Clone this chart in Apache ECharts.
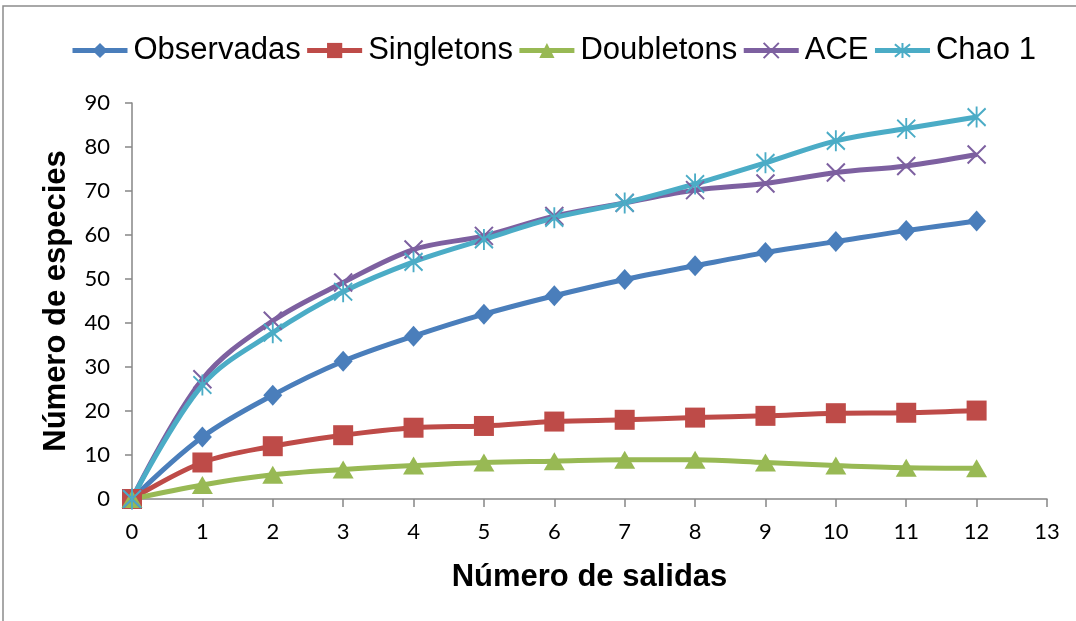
<!DOCTYPE html>
<html>
<head>
<meta charset="utf-8">
<script src="https://cdn.jsdelivr.net/npm/echarts@6/dist/echarts.min.js"></script>
<style>
  html, body { margin: 0; padding: 0; background: #fff; }
  #chart { width: 1076px; height: 621px; }
</style>
</head>
<body>
<div id="chart"></div>
<script>
// Sampling effort (number of outings) and species counts per estimator
const salidas = [0, 1, 2, 3, 4, 5, 6, 7, 8, 9, 10, 11, 12];
const observadas = [0, 14.1, 23.6, 31.3, 37.0, 42.0, 46.2, 49.9, 53.0, 56.0, 58.5, 61.0, 63.2];
const singletons = [0, 8.3, 12.0, 14.5, 16.2, 16.6, 17.6, 18.0, 18.5, 18.9, 19.5, 19.6, 20.1];
const doubletons = [0, 3.2, 5.5, 6.7, 7.6, 8.3, 8.6, 8.9, 8.9, 8.3, 7.6, 7.1, 7.0];
const ace = [0, 27.2, 40.5, 49.2, 56.7, 59.8, 64.3, 67.3, 70.2, 71.7, 74.2, 75.7, 78.3];
const chao1 = [0, 25.9, 37.8, 47.1, 53.9, 59.0, 63.9, 67.3, 71.6, 76.4, 81.4, 84.2, 86.8];

const seriesNames = ['Observadas', 'Singletons', 'Doubletons', 'ACE', 'Chao 1'];
const yTicks = { min: 0, max: 90, interval: 10 };
const xTicks = { min: 0, max: 13, interval: 1 };

const pairs = vals => salidas.map((s, i) => [s, vals[i]]);

const CROSS = 'path://M0,0L10,10M10,0L0,10';
const STAR = 'path://M0,1L10,11M10,1L0,11M5,0L5,12';

function lineSeries(name, vals, color, symbol, size, stroke) {
  return {
    name: name,
    type: 'line',
    data: pairs(vals),
    smooth: 0.35,
    symbol: symbol,
    symbolSize: size,
    lineStyle: { color: color, width: 5 },
    itemStyle: stroke
      ? { color: color, borderColor: color, borderWidth: 2 }
      : { color: color, borderWidth: 0 },
    emphasis: { disabled: true },
    z: 2
  };
}

const chart = echarts.init(document.getElementById('chart'), null, { renderer: 'canvas' });

const axisGray = '#868686';
const tickFont = { fontFamily: 'Lato, "Open Sans", sans-serif', fontSize: 22, color: '#000' };
const titleFont = { fontFamily: '"Liberation Sans", Arial, sans-serif', fontWeight: 'bold', fontSize: 31, color: '#000' };

chart.setOption({
  animation: false,
  backgroundColor: '#fff',
  graphic: [{
    type: 'rect',
    shape: { x: 3, y: 6, width: 1200, height: 800 },
    style: { fill: 'none', stroke: '#8c8c8c', lineWidth: 1.5 },
    silent: true
  }],
  legend: {
    data: seriesNames,
    top: 30,
    left: 65,
    itemWidth: 55,
    itemHeight: 19,
    itemGap: 4,
    lineStyle: { width: 5 },
    textStyle: { fontFamily: '"Liberation Sans", Arial, sans-serif', fontSize: 31, color: '#000', padding: [0, 0, 0, 1] }
  },
  grid: { left: 132, right: 29, top: 103, bottom: 122, containLabel: false },
  xAxis: {
    type: 'value',
    min: xTicks.min, max: xTicks.max, interval: xTicks.interval,
    name: 'Número de salidas',
    nameLocation: 'middle',
    nameGap: 63,
    nameTextStyle: titleFont,
    axisLine: { lineStyle: { color: axisGray, width: 1.5 } },
    axisTick: { show: true, length: 8, lineStyle: { color: axisGray, width: 1.5 } },
    axisLabel: Object.assign({ margin: 22 }, tickFont),
    splitLine: { show: false }
  },
  yAxis: {
    type: 'value',
    min: yTicks.min, max: yTicks.max, interval: yTicks.interval,
    name: 'Número de especies',
    nameLocation: 'middle',
    nameGap: 60,
    nameRotate: 90,
    nameTextStyle: titleFont,
    axisLine: { show: true, lineStyle: { color: axisGray, width: 1.5 } },
    axisTick: { show: true, length: 7, lineStyle: { color: axisGray, width: 1.5 } },
    axisLabel: Object.assign({ margin: 22 }, tickFont),
    splitLine: { show: false }
  },
  series: [
    lineSeries('Observadas', observadas, '#4a7ebb', 'diamond', [19, 21], false),
    lineSeries('Singletons', singletons, '#be4b48', 'rect', 20, false),
    lineSeries('Doubletons', doubletons, '#98b954', 'triangle', [21, 18], false),
    lineSeries('ACE', ace, '#7d60a0', CROSS, 18, true),
    lineSeries('Chao 1', chao1, '#4bacc6', STAR, [18, 21], true)
  ]
});
</script>
</body>
</html>
